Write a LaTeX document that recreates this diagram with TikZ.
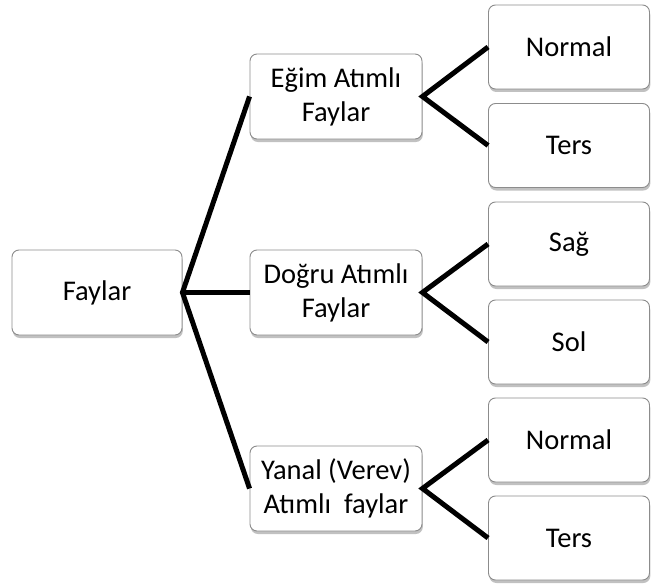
\documentclass[tikz,border=0pt]{standalone}
\usepackage{fontspec}
\setmainfont{Carlito}
\usetikzlibrary{shadows}
\begin{document}
\begin{tikzpicture}[x=1pt,y=-1pt,
  box/.style={draw=black!45, line width=0.9pt, rounded corners=7pt, fill=white,
    align=center, inner sep=0pt, font=\fontsize{28.5}{34}\selectfont,
    drop shadow={shadow xshift=0.8pt, shadow yshift=-3pt, opacity=0.4, fill=black!60}},
  midbox/.style={box, minimum width=172pt, minimum height=85pt},
  leafbox/.style={box, minimum width=161pt, minimum height=84pt},
  conn/.style={line width=5pt, black}]
\fill[white] (0,0) rectangle (651,586);
\useasboundingbox (0,0) rectangle (651,586);

\node[box, minimum width=170pt, minimum height=85pt] (root) at (97,292.5) {Faylar};

\node[midbox] (egim)  at (336,96.5)  {Eğim Atımlı\\Faylar};
\node[midbox] (dogru) at (336,292.5) {Doğru Atımlı\\Faylar};
\node[midbox] (yanal) at (336,488.5) {Yanal (Verev)\\Atımlı~ faylar};

\node[leafbox] (n1)  at (569,47)    {Normal};
\node[leafbox] (t1)  at (569,145.5) {Ters};
\node[leafbox] (sag) at (569,244)   {Sağ};
\node[leafbox] (sol) at (569,342)   {Sol};
\node[leafbox] (n2)  at (569,440)   {Normal};
\node[leafbox] (t2)  at (569,538)   {Ters};

\draw[conn] (egim.west) -- (root.east) -- (yanal.west);
\draw[conn] (root.east) -- (dogru.west);

\draw[conn] (n1.west) -- (egim.east) -- (t1.west);
\draw[conn] (sag.west) -- (dogru.east) -- (sol.west);
\draw[conn] (n2.west) -- (yanal.east) -- (t2.west);
\end{tikzpicture}
\end{document}
